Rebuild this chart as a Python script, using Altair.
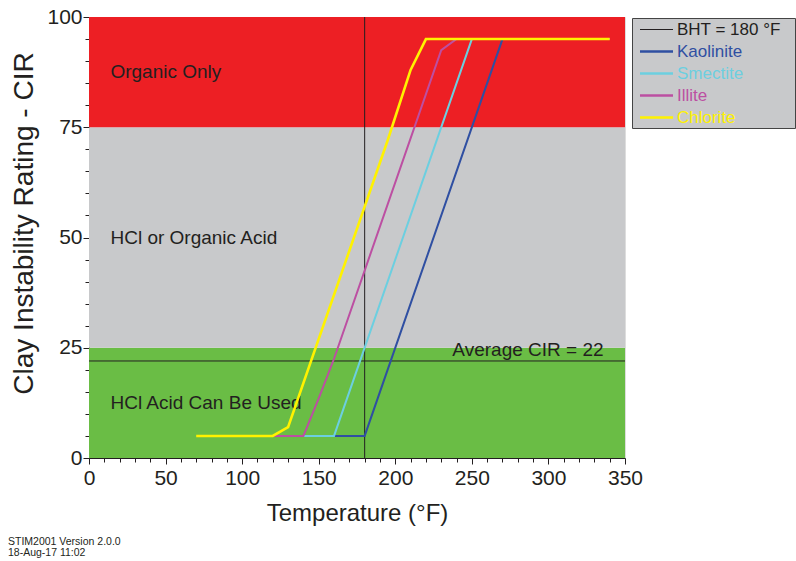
import altair as alt
import pandas as pd

# ---------------- data ----------------
series_names = ["BHT = 180 °F", "Kaolinite", "Smectite", "Illite", "Chlorite"]
series_colors = ["#231F20", "#2F4FA2", "#6CCFE0", "#BC4FA2", "#FFF200"]

temp_kaolinite = [160, 180, 270, 340]
cir_kaolinite = [5, 5, 95, 95]
temp_smectite = [140, 160, 250, 340]
cir_smectite = [5, 5, 95, 95]
temp_illite = [120, 140, 150, 160, 230, 240, 340]
cir_illite = [5, 5, 13.5, 22.5, 92.5, 95, 95]
temp_chlorite = [70, 120, 130, 195, 210, 220, 340]
cir_chlorite = [5, 5, 7, 72, 88, 95, 95]

bht_temp = 180
avg_cir = 22
avg_label = "Average CIR = 22"

band_names = ["HCl Acid Can Be Used", "HCl or Organic Acid", "Organic Only"]
band_low = [0, 25, 75]
band_high = [25, 75, 100]
band_colors = ["#6ABD45", "#C8C9CB", "#ED1F24"]
band_label_temp = 14

x_ticks_all = list(range(0, 351, 10))
y_ticks_all = list(range(0, 101, 5))

footer = "STIM2001 Version 2.0.0\n18-Aug-17 11:02"

FONT = "Liberation Sans"
W, H = 536, 441

# ---------------- frames ----------------
bands = pd.DataFrame({"band": band_names, "low": band_low, "high": band_high})
minerals = {
    "Kaolinite": (temp_kaolinite, cir_kaolinite),
    "Smectite": (temp_smectite, cir_smectite),
    "Illite": (temp_illite, cir_illite),
    "Chlorite": (temp_chlorite, cir_chlorite),
}
bht = pd.DataFrame({"series": [series_names[0]], "t": [bht_temp]})
legend_df = pd.DataFrame({"series": series_names, "idx": list(range(len(series_names)))})

xscale = alt.Scale(domain=[0, 350], nice=False, zero=False)
yscale = alt.Scale(domain=[0, 100], nice=False, zero=False)
cscale = alt.Scale(domain=series_names, range=series_colors)

x_axis = alt.Axis(
    title="Temperature (°F)", values=x_ticks_all, tickCount=200, format="d",
    labelExpr="datum.value % 50 === 0 ? datum.label : ''",
    tickSize={"condition": {"test": "datum.value % 50 === 0", "value": 6}, "value": 4},
    labelOverlap=False, labelFlush=False, grid=False,
    labelFontSize=21, titleFontSize=24, titleFontWeight="normal",
    labelPadding=3, titlePadding=13, domainColor="#231F20", tickColor="#231F20",
    labelColor="#231F20", titleColor="#231F20", labelFont=FONT, titleFont=FONT,
)
y_axis = alt.Axis(
    title="Clay Instability Rating - CIR", values=y_ticks_all, tickCount=200, format="d",
    labelExpr="datum.value % 25 === 0 ? datum.label : ''",
    tickSize={"condition": {"test": "datum.value % 25 === 0", "value": 6}, "value": 4},
    labelOverlap=False, labelFlush=False, grid=False,
    labelFontSize=21, titleFontSize=28, titleFontWeight="normal",
    titleX=-51, titleY=206, titleBaseline="bottom", titleAngle=270,
    labelPadding=1, domainColor="#231F20", tickColor="#231F20",
    labelColor="#231F20", titleColor="#231F20", labelFont=FONT, titleFont=FONT,
)

band_layer = alt.Chart(bands).mark_rect().encode(
    x=alt.datum(0, scale=xscale, axis=x_axis, type="quantitative"),
    x2=alt.datum(350),
    y=alt.Y("low:Q", scale=yscale, axis=y_axis),
    y2="high:Q",
    fill=alt.Fill("band:N", scale=alt.Scale(domain=band_names, range=band_colors), legend=None),
)

band_text = alt.Chart(bands).transform_calculate(
    mid="(datum.low + datum.high) / 2"
).mark_text(align="left", baseline="middle", fontSize=19, font=FONT, color="#231F20").encode(
    x=alt.datum(band_label_temp, type="quantitative"),
    y=alt.Y("mid:Q"),
    text="band:N",
)

avg_rule = alt.Chart(pd.DataFrame({"v": [avg_cir]})).mark_rule(color="#231F20", strokeWidth=1).encode(
    y="v:Q", x=alt.datum(0), x2=alt.datum(350)
)
avg_text = alt.Chart(pd.DataFrame({"v": [avg_cir], "lab": [avg_label]})).mark_text(
    align="right", baseline="bottom", dy=-1, fontSize=19, font=FONT, color="#231F20"
).encode(y="v:Q", x=alt.datum(336, type="quantitative"), text="lab:N")

bht_layer = alt.Chart(bht).mark_rule(strokeWidth=1).encode(
    x="t:Q",
    color=alt.Color("series:N", scale=cscale, legend=None),
)

line_layers = []
for name, (ts, cs) in minerals.items():
    df = pd.DataFrame({"series": name, "t": ts, "cir": cs})
    line_layers.append(
        alt.Chart(df).mark_line(strokeWidth=2.6 if name == "Chlorite" else 2).encode(
            x="t:Q", y="cir:Q", color=alt.Color("series:N", scale=cscale, legend=None),
        )
    )

# ---------------- legend (drawn by hand, in pixels) ----------------
legend_box = alt.Chart(pd.DataFrame({"k": [0]})).mark_rect(
    fill="#C8C9CB", stroke="#444444", strokeWidth=1
).encode(x=alt.value(543.5), x2=alt.value(706.5), y=alt.value(1.5), y2=alt.value(111.5))

legend_base = alt.Chart(legend_df).transform_calculate(py="12.5 + datum.idx * 22")
legend_sym = legend_base.mark_rule().encode(
    x=alt.value(551), x2=alt.value(584),
    y=alt.Y("py:Q", scale=None, axis=None),
    color=alt.Color("series:N", scale=cscale, legend=None),
    strokeWidth=alt.condition(alt.datum.idx == 0, alt.value(1), alt.value(2.6)),
)
legend_lab = legend_base.mark_text(
    align="left", baseline="middle", fontSize=17, font=FONT
).encode(
    x=alt.value(588),
    y=alt.Y("py:Q", scale=None, axis=None),
    text="series:N",
    color=alt.Color("series:N", scale=cscale, legend=None),
)

footer_layer = alt.Chart(pd.DataFrame({"f": [footer]})).mark_text(
    align="left", baseline="top", fontSize=10.5, font=FONT, color="#231F20",
    lineBreak="\n", lineHeight=11,
).encode(x=alt.value(-81), y=alt.value(520), text="f:N")

chart = alt.layer(
    band_layer, band_text, avg_rule, avg_text, bht_layer, *line_layers,
    legend_box, legend_sym, legend_lab, footer_layer
).properties(
    width=W, height=H,
    autosize=alt.AutoSizeParams(type="none"),
    padding={"left": 89, "top": 17, "right": 171, "bottom": 103},
).configure_view(
    stroke="#231F20", strokeWidth=1
).configure_axis(
    labelOverlap=False
).configure(background="white")

chart.save("out.html", embed_options={"renderer": "svg", "actions": False})
